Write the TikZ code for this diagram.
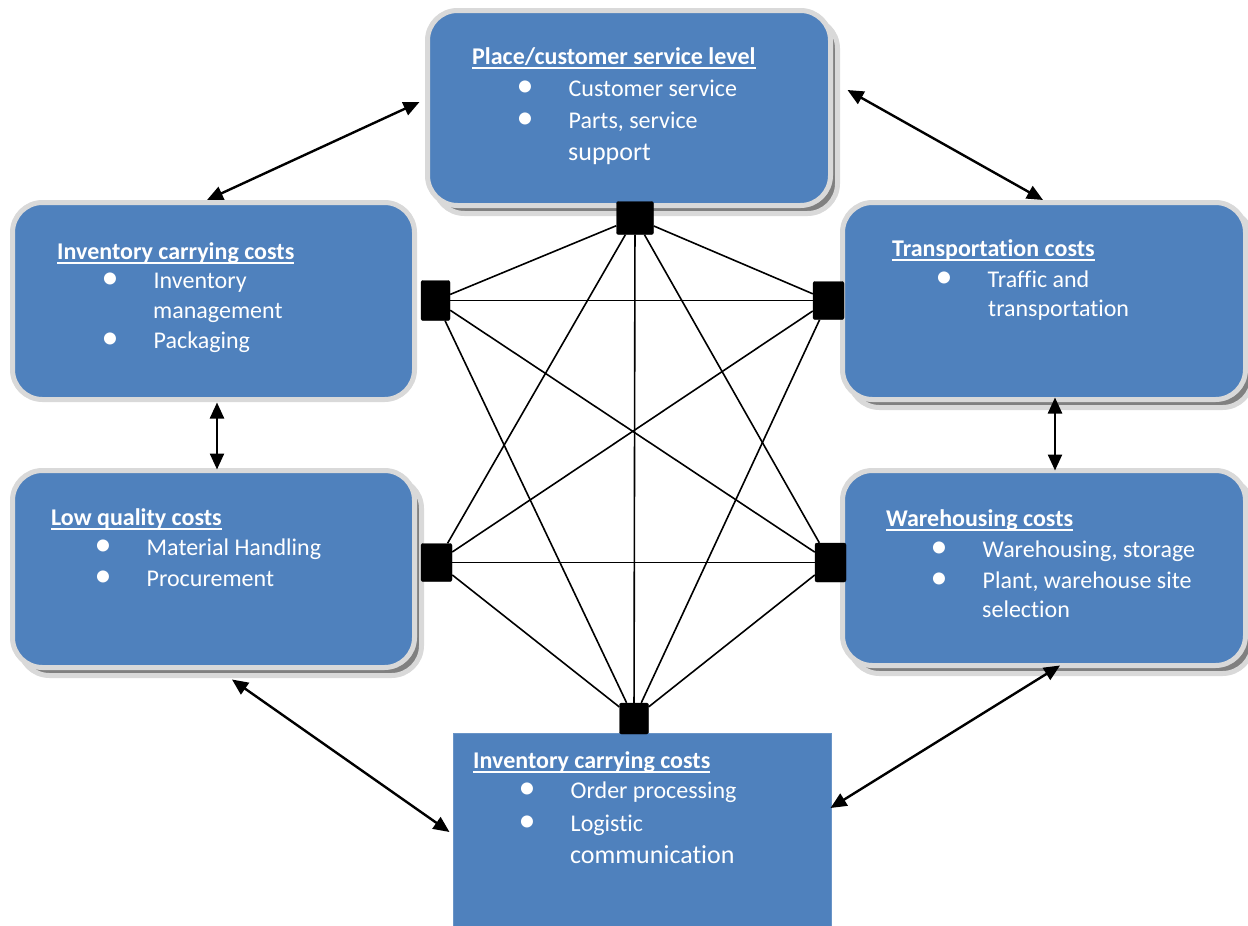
\documentclass[tikz,border=0pt]{standalone}
\usepackage{fontspec}
\setmainfont{Carlito}[Ligatures=NoCommon]
\usetikzlibrary{arrows.meta}
\definecolor{boxblue}{HTML}{4F81BD}
\definecolor{rimgray}{HTML}{D9D9D9}
\definecolor{shadegray}{HTML}{808080}
\newcommand{\ulx}[1]{\setbox0\hbox{#1}\rlap{\rule[-5pt]{\wd0}{1.8pt}}\box0}
\newcommand{\bulx}{\makebox[0pt][c]{\raisebox{0pt}{\fontsize{34}{34}\selectfont •}}\hspace{43.5pt}}
\begin{document}
\begin{tikzpicture}[x=1pt,y=-1pt,
  rbox/.style={draw=rimgray, line width=5pt, fill=boxblue, rounded corners=30pt, inner sep=0pt},
  sbox/.style={rbox, preaction={draw=rimgray, line width=5pt, fill=shadegray, transform canvas={shift={(7pt,-8pt)}}}},
  pbox/.style={draw=boxblue!85!white, line width=1pt, fill=boxblue, inner sep=0pt},
  txt/.style={text=white, font=\fontsize{24}{28}\selectfont, inner sep=0pt, anchor=base west},
  ttl/.style={txt, font=\bfseries\fontsize{24}{28}\selectfont},
  big/.style={txt, font=\fontsize{26}{30}\selectfont},
  sq/.style={fill=black, draw=black, rounded corners=2pt, inner sep=0pt},
  link/.style={line width=1.6pt, black},
  arr/.style={line width=2.4pt, black, >={Triangle[length=16pt,width=14pt]}, <->}]
\fill[white] (0,0) rectangle (1248,926);
\useasboundingbox (0,0) rectangle (1248,926);

% boxes
\node[sbox, minimum width=403pt, minimum height=195pt] (top) at (629,108) {};
\node[rbox, minimum width=402pt, minimum height=197pt] (lu) at (213.5,301) {};
\node[sbox, minimum width=402pt, minimum height=197pt] (ll) at (213.5,569) {};
\node[sbox, minimum width=403pt, minimum height=197pt] (ru) at (1044,301) {};
\node[sbox, minimum width=403pt, minimum height=195pt] (rl) at (1044,568) {};
\node[pbox, minimum width=378pt, minimum height=193pt] (bot) at (642,829.5) {};

% texts: top box
\node[ttl] (t0) at (472,64) {\ulx{Place/customer service level}};
\node[txt] (t1) at (525,96) {\bulx Customer service};
\node[txt] (t2) at (525,128) {\bulx Parts, service};
\node[big] (t3) at (568,160) {support};
% left upper
\node[ttl] (l0) at (57,259) {\ulx{Inventory carrying costs}};
\node[txt] (l1) at (110,288) {\bulx Inventory};
\node[txt] (l2) at (153,318) {management};
\node[txt] (l3) at (110,348) {\bulx Packaging};
% left lower
\node[ttl] (q0) at (51,525) {\ulx{Low quality costs}};
\node[txt] (q1) at (103,555) {\bulx Material Handling};
\node[txt] (q2) at (103,586) {\bulx Procurement};
% right upper
\node[ttl] (r0) at (892,256) {\ulx{Transportation costs}};
\node[txt] (r1) at (944,287) {\bulx Traffic and};
\node[txt] (r2) at (988,316) {transportation};
% right lower
\node[ttl] (w0) at (886,526) {\ulx{Warehousing costs}};
\node[txt] (w1) at (939,557) {\bulx Warehousing, storage};
\node[txt] (w2) at (939,588) {\bulx Plant, warehouse site};
\node[txt] (w3) at (982,617) {selection};
% bottom
\node[ttl] (b0) at (473,768) {\ulx{Inventory carrying costs}};
\node[txt] (b1) at (527,798) {\bulx Order processing};
\node[txt] (b2) at (527,831) {\bulx Logistic};
\node[big] (b3) at (570,863) {communication};

% squares
\node[sq, minimum width=37pt, minimum height=33pt] (sT) at (635,218) {};
\node[sq, minimum width=29pt, minimum height=40pt] (sLU) at (435.5,300.5) {};
\node[sq, minimum width=31pt, minimum height=38pt] (sRU) at (828.5,300.5) {};
\node[sq, minimum width=31pt, minimum height=38pt] (sLL) at (436.5,562.5) {};
\node[sq, minimum width=31pt, minimum height=39pt] (sRL) at (830.5,562.5) {};
\node[sq, minimum width=29pt, minimum height=31pt] (sB) at (634,718.5) {};

% links
\draw[link] (sT) -- (sLU);
\draw[link] (sT) -- (sRU);
\draw[link] (sT) -- (sLL);
\draw[link] (sT) -- (sRL);
\draw[link] (sT) -- (sB);
\draw[link] (sLU) -- (sRU);
\draw[link] (sLU) -- (sRL);
\draw[link] (sLU) -- (sB);
\draw[link] (sRU) -- (sLL);
\draw[link] (sRU) -- (sB);
\draw[link] (sLL) -- (sRL);
\draw[link] (sLL) -- (sB);
\draw[link] (sRL) -- (sB);

% double arrows
\draw[arr] ([shift={(-5.5,-6)}]top.west) -- ([shift={(-6.5,0)}]lu.north);
\draw[arr] ([shift={(14.5,-18)}]top.east) -- ([shift={(-1,0)}]ru.north);
\draw[arr] ([shift={(3.5,0.5)}]lu.south) -- ([shift={(3.5,1.5)}]ll.north);
\draw[arr] ([shift={(11,-4.5)}]ru.south) -- ([shift={(11,2.5)}]rl.north);
\draw[arr] ([shift={(18.5,9.5)}]ll.south) -- ([shift={(-3,2.5)}]bot.west);
\draw[arr] ([shift={(16,-2.5)}]rl.south) -- ([shift={(-1,-21.5)}]bot.east);
\end{tikzpicture}
\end{document}
